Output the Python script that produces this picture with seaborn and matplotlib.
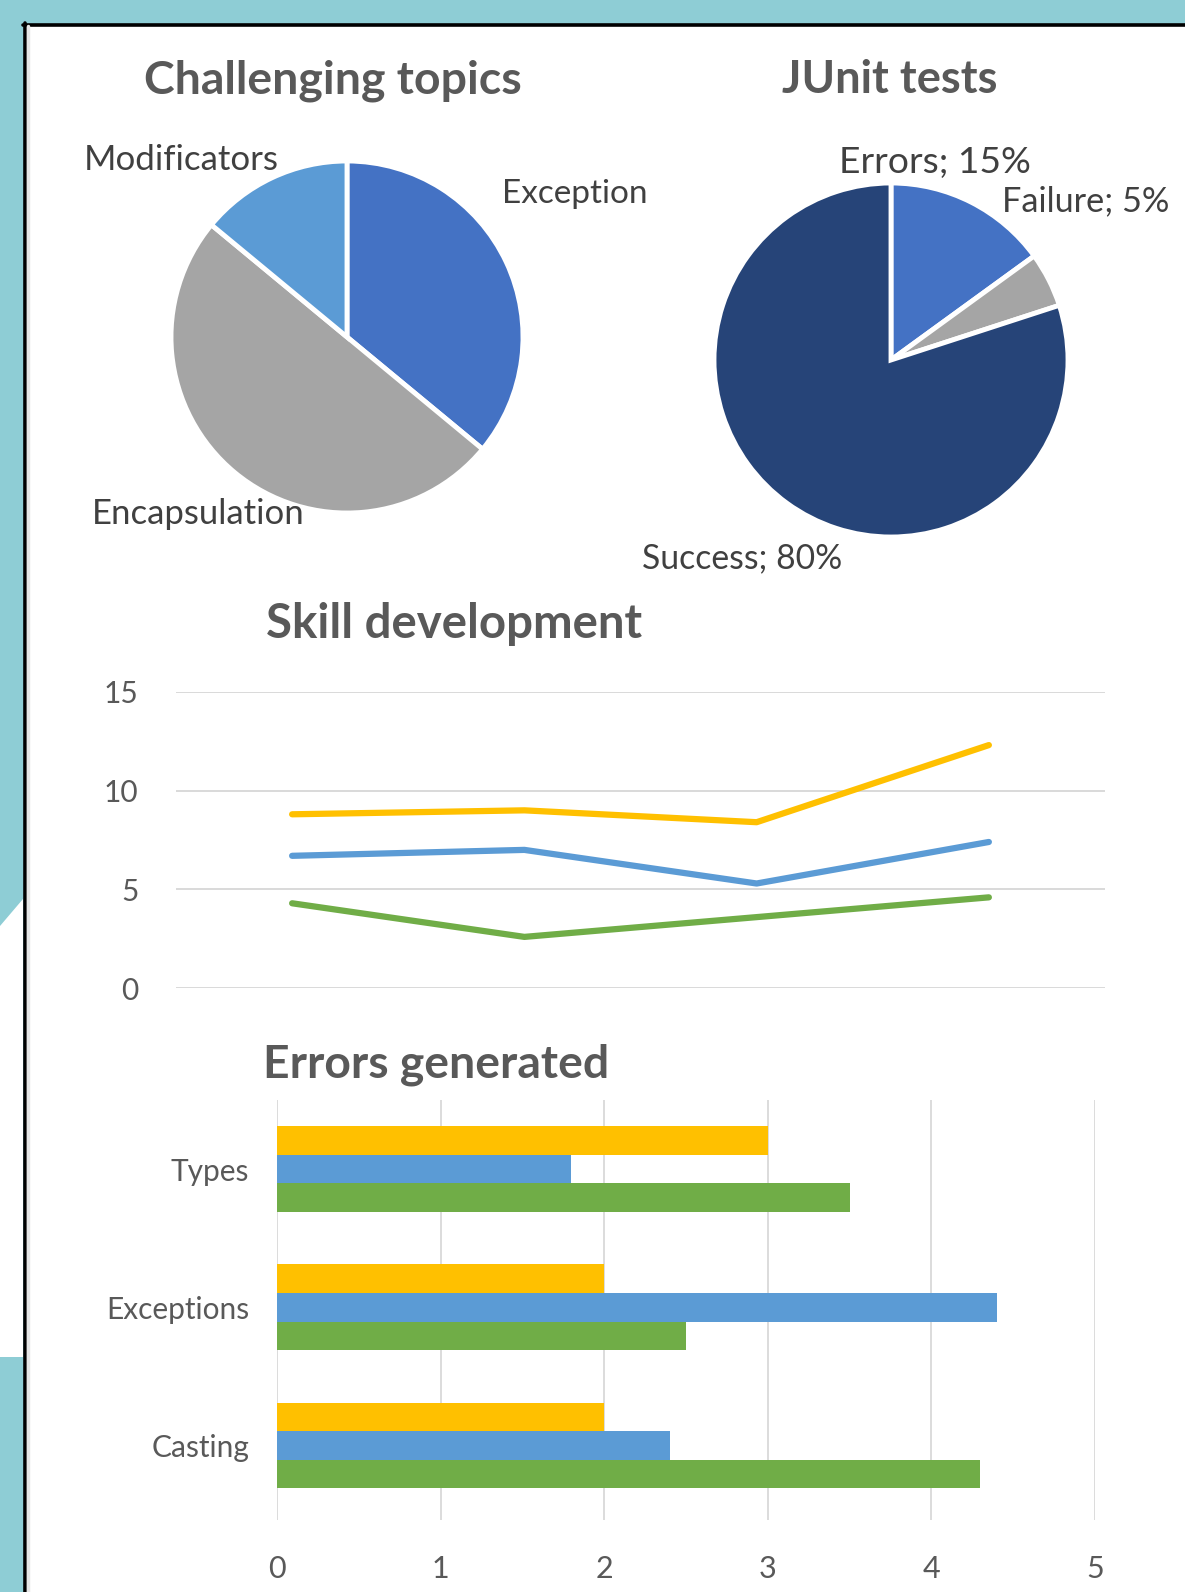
import matplotlib
matplotlib.use("Agg")
import matplotlib.pyplot as plt
from matplotlib.patches import Rectangle, Polygon
import numpy as np
import pandas as pd
import seaborn as sns

# ---- data -------------------------------------------------------------
topic_names = ["Exception", "Encapsulation", "Modificators"]
topic_shares = [36, 50, 14]

junit_names = ["Errors", "Failure", "Success"]
junit_pcts = [15, 5, 80]

skill_steps = [1, 2, 3, 4]
skill_series = ["Series 1", "Series 2", "Series 3"]
skill_yellow = [8.8, 9.0, 8.4, 12.3]
skill_blue = [6.7, 7.0, 5.3, 7.4]
skill_green = [4.3, 2.6, 3.6, 4.6]

error_topics = ["Types", "Exceptions", "Casting"]
errors_yellow = [3.0, 2.0, 2.0]
errors_blue = [1.8, 4.4, 2.4]
errors_green = [3.5, 2.5, 4.3]

# ---- style ------------------------------------------------------------
sns.set_theme(style="white")
plt.rcParams["font.family"] = ["Lato", "DejaVu Sans"]

TEAL = "#8ECDD5"
YELLOW, BLUE, GREEN = "#FFC000", "#5B9BD5", "#70AD47"
TITLE_C, LABEL_C, TICK_C = "#595959", "#404040", "#595959"
GRID_C = "#D9D9D9"

W, H = 1185, 1592
fig = plt.figure(figsize=(W / 100, H / 100), dpi=100, facecolor=TEAL)


def box(x0, y0, x1, y1):
    return [x0 / W, 1 - y1 / H, (x1 - x0) / W, (y1 - y0) / H]


def fx(x):
    return x / W


def fy(y):
    return 1 - y / H


# background panel
fig.patches.append(Polygon([(fx(0), fy(926)), (fx(23), fy(899)), (fx(23), fy(1357)),
                            (fx(0), fy(1357))], closed=True, transform=fig.transFigure,
                           facecolor="white", edgecolor="none", zorder=-10))
fig.patches.append(Rectangle((fx(24), 0), fx(W) - fx(24), fy(24), transform=fig.transFigure,
                             facecolor="white", edgecolor="none", zorder=-10))
fig.add_artist(plt.Line2D([fx(24.5), fx(24.5)], [0, fy(23)], color="black", lw=2.6,
                          transform=fig.transFigure, zorder=1))
fig.add_artist(plt.Line2D([fx(23), 1], [fy(24.5), fy(24.5)], color="black", lw=2.6,
                          transform=fig.transFigure, zorder=1))
fig.add_artist(plt.Line2D([fx(28), fx(28)], [0, fy(26)], color="#E6E6E6", lw=2.5,
                          transform=fig.transFigure, zorder=1))

renderer = fig.canvas.get_renderer()


def fit_width(t, target):
    w = t.get_window_extent(renderer).width
    t.set_fontsize(t.get_fontsize() * target / w)
    return t


def label(x, y, s, width, bold=False, color=LABEL_C, ha="left"):
    t = fig.text(fx(x), fy(y + 3), s, ha=ha, va="center", color=color,
                 fontsize=20, fontweight="bold" if bold else "normal")
    return fit_width(t, width)


WEDGE = dict(edgecolor="white", linewidth=3.5)

# ---- pie: challenging topics -----------------------------------------
ax1 = fig.add_axes(box(171, 161, 523, 513))
ax1.pie(topic_shares, colors=["#4472C4", "#A5A5A5", BLUE], startangle=90,
        counterclock=False, wedgeprops=WEDGE)
ax1.set(xlim=(-1, 1), ylim=(-1, 1))
ax1.set_axis_off()
label(333, 78, "Challenging topics", 377, bold=True, color=TITLE_C, ha="center")
label(84, 157, topic_names[2], 195)
label(502, 191, topic_names[0], 146)
label(92, 511, topic_names[1], 213)

# ---- pie: JUnit tests -------------------------------------------------
ax2 = fig.add_axes(box(714, 183, 1068, 537))
ax2.pie(junit_pcts, colors=["#4472C4", "#A5A5A5", "#264478"], startangle=90,
        counterclock=False, wedgeprops=WEDGE)
ax2.set(xlim=(-1, 1), ylim=(-1, 1))
ax2.set_axis_off()
label(890, 77, "JUnit tests", 216, bold=True, color=TITLE_C, ha="center")
junit_text = [f"{n}; {p}%" for n, p in zip(junit_names, junit_pcts)]
label(839, 159, junit_text[0], 192)
label(1002, 198, junit_text[1], 168)
label(642, 555, junit_text[2], 200)

# ---- line chart: skill development -----------------------------------
skill_df = pd.DataFrame({
    "step": skill_steps * 3,
    "score": skill_yellow + skill_blue + skill_green,
    "series": np.repeat(skill_series, len(skill_steps)),
})
ax3 = fig.add_axes(box(176, 691.7, 1105, 988.3))
ax3.patch.set_alpha(0)
sns.lineplot(data=skill_df, x="step", y="score", hue="series",
             palette=[YELLOW, BLUE, GREEN], linewidth=4.5, legend=False, ax=ax3)
ax3.set(xlim=(0.5, 4.5), ylim=(0, 15), xlabel="", ylabel="")
ax3.set_yticks([0, 5, 10, 15])
ax3.set_xticks([])
ax3.grid(axis="y", color=GRID_C, linewidth=1.4)
ax3.set_axisbelow(True)
sns.despine(ax=ax3, left=True, bottom=True)
ax3.tick_params(axis="y", length=0, pad=27, labelsize=21.5, labelcolor=TICK_C)
label(266, 621, "Skill development", 376, bold=True, color=TITLE_C)

# ---- bar chart: errors generated -------------------------------------
err_df = pd.DataFrame({
    "topic": error_topics * 3,
    "count": errors_yellow + errors_blue + errors_green,
    "series": np.repeat(skill_series, len(error_topics)),
})
ax4 = fig.add_axes(box(277, 1100, 1095, 1520))
ax4.patch.set_alpha(0)
sns.barplot(data=err_df, y="topic", x="count", hue="series", orient="h",
            palette=[YELLOW, BLUE, GREEN], saturation=1, width=0.62,
            linewidth=0, legend=False, ax=ax4)
ax4.set(xlim=(0, 5), ylim=(2.54, -0.5), xlabel="", ylabel="")
ax4.set_xticks(range(6))
ax4.grid(axis="x", color=GRID_C, linewidth=1.3)
ax4.set_axisbelow(True)
sns.despine(ax=ax4, left=True, bottom=True)
ax4.tick_params(axis="y", length=0, pad=20, labelsize=21.5, labelcolor=TICK_C)
ax4.tick_params(axis="x", length=0, pad=25, labelsize=22, labelcolor=TICK_C)
label(263, 1062, "Errors generated", 346, bold=True, color=TITLE_C)

fig.savefig("out.png", dpi=100, facecolor=TEAL)
